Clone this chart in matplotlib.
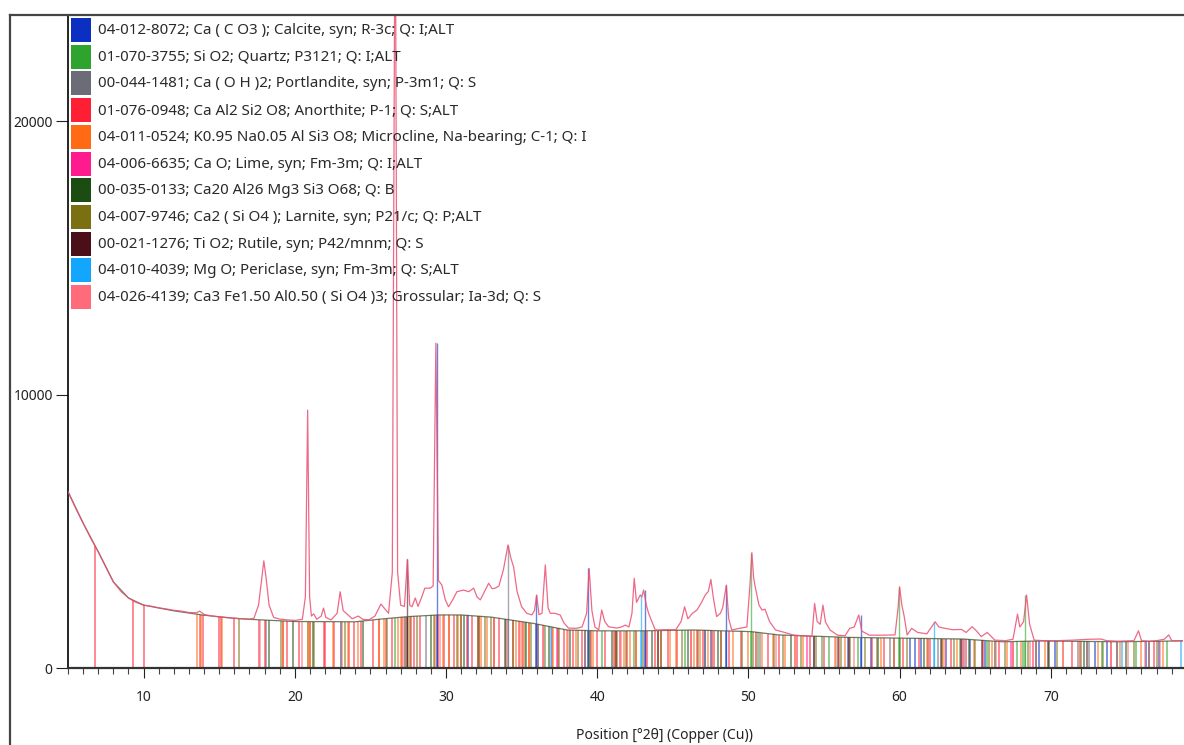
import numpy as np
import matplotlib
matplotlib.use("Agg")
import matplotlib.pyplot as plt
from matplotlib.lines import Line2D
from matplotlib.patches import Rectangle

plt.rcParams['font.family'] = ['Noto Sans', 'DejaVu Sans']

# ---- measured scan (2theta, counts) ----
obs_tth = [5.0, 5.5, 6.0, 6.5, 7.0, 7.5, 8.0, 8.5, 9.0, 9.5, 10.0, 10.5, 11.0, 11.5,
           12.0, 12.5, 13.0, 13.5, 13.7, 14.0, 14.5, 15.0, 15.5, 16.0, 16.5, 17.0,
           17.3, 17.6, 17.8, 17.95, 18.1, 18.3, 18.6, 19.0, 19.5, 20.0, 20.5, 20.7,
           20.85, 20.98, 21.1, 21.25, 21.45, 21.75, 21.9, 22.05, 22.4, 22.8, 23.0,
           23.2, 23.5, 23.8, 24.2, 24.5, 24.9, 25.3, 25.7, 25.9, 26.2, 26.45, 26.64,
           26.8, 27.0, 27.25, 27.45, 27.6, 27.75, 27.97, 28.15, 28.4, 28.6, 28.96,
           29.15, 29.33, 29.5, 29.73, 29.95, 30.17, 30.45, 30.72, 31.16, 31.5, 31.83,
           32.05, 32.27, 32.55, 32.82, 33.05, 33.26, 33.5, 33.8, 34.1, 34.3, 34.47,
           34.7, 35.0, 35.35, 35.68, 35.85, 36.0, 36.15, 36.35, 36.57, 36.75, 36.9,
           37.2, 37.55, 37.8, 38.1, 38.6, 39.0, 39.3, 39.47, 39.65, 39.85, 40.1,
           40.3, 40.5, 40.75, 41.3, 41.6, 41.86, 42.1, 42.3, 42.45, 42.6, 42.85,
           42.95, 43.07, 43.25, 43.4, 43.84, 44.5, 45.2, 45.55, 45.78, 46.0, 46.3,
           46.6, 46.9, 47.15, 47.35, 47.52, 47.7, 47.9, 48.15, 48.3, 48.54, 48.7,
           48.9, 49.4, 49.9, 50.1, 50.23, 50.35, 50.45, 50.7, 50.9, 51.1, 51.4,
           51.8, 52.4, 53.0, 53.6, 54.2, 54.38, 54.55, 54.75, 54.93, 55.1, 55.4,
           55.9, 56.4, 56.7, 57.0, 57.3, 57.5, 58.0, 58.8, 59.7, 59.9, 60.0, 60.15,
           60.3, 60.5, 60.8, 61.2, 61.8, 62.35, 62.6, 63.0, 63.5, 64.1, 64.4, 64.8,
           65.1, 65.4, 65.8, 66.3, 67.0, 67.5, 67.8, 67.95, 68.2, 68.4, 68.6, 68.9,
           69.5, 70.5, 71.5, 72.5, 73.3, 73.7, 74.5, 75.5, 75.8, 76.0, 76.5, 77.0,
           77.5, 77.8, 78.0, 78.7]
obs_int = [6450, 5850, 5300, 4750, 4250, 3700, 3150, 2800, 2560, 2400, 2300, 2260, 2200, 2160,
           2110, 2080, 2030, 2020, 2080, 1960, 1900, 1870, 1840, 1820, 1800, 1790,
           1820, 2300, 3200, 3920, 3300, 2300, 1850, 1790, 1760, 1740, 1780, 2600,
           9430, 2600, 1900, 1980, 1780, 1900, 2190, 1850, 1760, 2000, 2790,
           2100, 1950, 1800, 1900, 1780, 1760, 1900, 2340, 2200, 2000, 3500, 30000,
           3500, 2300, 2250, 3970, 2300, 2240, 2560, 2250, 2600, 2920, 2920,
           3000, 11880, 3200, 3030, 2500, 2240, 2500, 2790, 2850, 2790, 2920,
           2600, 2490, 2800, 3100, 2900, 2920, 3000, 3600, 4500, 4000, 3700,
           2800, 2240, 2000, 1940, 2100, 2670, 1950, 2000, 3770, 2200, 2000,
           2000, 1940, 1650, 1460, 1450, 1500, 2000, 3640, 2100, 1500, 1390,
           2120, 1700, 1510, 1460, 1500, 1570, 1500, 2000, 3280, 2400, 2670,
           2600, 2850, 2300, 2000, 1390, 1400, 1400, 1700, 2240, 1800, 2000,
           2120, 2400, 2670, 2800, 3240, 2500, 1880, 2000, 2200, 3030, 1800,
           1390, 1450, 1500, 3000, 4220, 3300, 2970, 2300, 2120, 2150, 1700,
           1390, 1300, 1200, 1180, 1150, 2360, 1700, 1600, 2300, 1680, 1390,
           1200, 1180, 1450, 1500, 1940, 1350, 1200, 1200, 1210, 2200, 2970, 2300,
           1900, 1210, 1450, 1300, 1250, 1690, 1500, 1450, 1400, 1410, 1300, 1510,
           1350, 1150, 1300, 1020, 1000, 1050, 1970, 1500, 1690, 2670, 1600, 1020,
           1000, 1000, 1020, 1050, 1060, 1000, 980, 1000, 1360, 1000, 980, 1000,
           1050, 1210, 1000, 1000]

# fitted background
bg_tth = [5, 6, 7, 8, 9, 10, 12, 14, 16, 17, 20, 24, 25.7, 27.5, 29.5, 31, 33, 35.8,
          38, 40, 43, 46.4, 50.2, 52, 56.6, 59.1, 64.2, 66.8, 69.3, 74.4, 78.7]
bg_int = [6450, 5300, 4250, 3150, 2560, 2300, 2090, 1930, 1820, 1780, 1700, 1690, 1790,
          1880, 1940, 1940, 1860, 1630, 1390, 1360, 1360, 1390, 1330, 1210, 1120, 1100,
          1060, 960, 990, 960, 990]

# ---- identified phases ----
phase_labels = [
    "04-012-8072; Ca ( C O3 ); Calcite, syn; R-3c; Q: I;ALT",
    "01-070-3755; Si O2; Quartz; P3121; Q: I;ALT",
    "00-044-1481; Ca ( O H )2; Portlandite, syn; P-3m1; Q: S",
    "01-076-0948; Ca Al2 Si2 O8; Anorthite; P-1; Q: S;ALT",
    "04-011-0524; K0.95 Na0.05 Al Si3 O8; Microcline, Na-bearing; C-1; Q: I",
    "04-006-6635; Ca O; Lime, syn; Fm-3m; Q: I;ALT",
    "00-035-0133; Ca20 Al26 Mg3 Si3 O68; Q: B",
    "04-007-9746; Ca2 ( Si O4 ); Larnite, syn; P21/c; Q: P;ALT",
    "00-021-1276; Ti O2; Rutile, syn; P42/mnm; Q: S",
    "04-010-4039; Mg O; Periclase, syn; Fm-3m; Q: S;ALT",
    "04-026-4139; Ca3 Fe1.50 Al0.50 ( Si O4 )3; Grossular; Ia-3d; Q: S",
]
phase_colors = ["#0b2fc0", "#2ea42e", "#6c6c78", "#ff1f35", "#ff6a12", "#ff1a8f",
                "#1b4d12", "#7a7012", "#4b0f1a", "#12a6ff", "#ff6b7b"]

calcite_pos = [23.06, 29.41, 31.44, 35.97, 39.42, 43.16, 47.12, 47.51, 48.51, 56.57,
               57.42, 58.09, 60.70, 61.01, 61.42, 63.07, 64.68, 65.62, 69.23, 70.27,
               72.94, 73.72, 76.33, 77.17]
quartz_pos = [20.86, 26.64, 36.54, 39.46, 40.29, 42.45, 45.79, 50.14, 50.62, 54.87,
              55.33, 57.23, 59.96, 63.99, 65.79, 67.74, 68.14, 68.32, 73.47, 75.66, 77.67]
portlandite_pos = [18.09, 28.66, 34.09, 47.12, 50.79, 54.34, 59.35, 62.54, 64.23,
                   71.78, 72.54]
anorthite_pos = [6.8, 9.3, 10.05, 13.7, 13.9, 15.0, 15.1, 16.0, 17.6, 18.0, 19.2, 19.5,
                 20.3, 21.0, 21.9, 22.0, 22.6, 23.6, 23.9, 24.4, 25.2, 25.6, 26.0, 26.4,
                 27.1, 27.7, 27.9, 28.3, 29.5, 29.9, 30.2, 30.5, 31.0, 31.4, 31.7, 32.1,
                 33.2, 33.5, 34.0, 34.4, 34.8, 35.1, 35.5, 36.4, 37.0, 37.4, 37.8, 38.4,
                 39.0, 39.6, 40.0, 40.5, 41.1, 41.5, 42.0, 42.6, 43.3, 43.8, 44.2, 44.7,
                 45.3, 46.2, 46.6, 47.0, 47.7, 48.2, 48.7, 49.5, 50.5, 51.3, 52.0, 53.2,
                 54.1, 55.0, 56.0, 58.2, 59.0, 60.2, 61.3, 62.0, 63.4, 64.4, 65.5, 66.6,
                 67.5, 68.8, 71.4, 74.0, 76.8]
microcline_pos = [13.5, 13.8, 15.2, 19.2, 20.9, 21.0, 22.5, 23.1, 23.5, 24.2, 25.6,
                  25.9, 26.8, 27.0, 27.5, 29.3, 29.8, 30.2, 30.8, 32.3, 32.7, 33.2, 34.6,
                  35.0, 35.5, 37.1, 38.0, 38.6, 39.7, 41.2, 41.8, 42.2, 42.6, 44.0, 44.8,
                  45.2, 46.4, 46.8, 47.3, 49.0, 50.0, 50.9, 51.6, 52.4, 53.1, 53.6, 55.7,
                  56.4, 58.8, 59.6, 61.8, 62.9, 63.8, 64.9, 66.1, 67.1, 68.0, 69.6, 70.8,
                  71.9, 73.1, 74.6, 76.0, 77.4]
lime_pos = [32.20, 37.35, 53.85, 64.15, 67.38]
ca20_pos = [18.3, 19.9, 21.2, 24.5, 27.3, 29.0, 31.2, 33.9, 35.3, 36.8, 38.2, 41.0,
            43.6, 46.0, 48.0, 52.8, 55.9, 58.6, 61.6, 64.6, 66.3, 69.9, 72.2, 75.0]
larnite_pos = [16.3, 19.1, 21.3, 23.3, 26.1, 27.6, 28.1, 29.2, 30.7, 31.0, 32.1, 32.2,
               32.6, 33.0, 34.4, 35.2, 35.6, 37.5, 38.7, 39.5, 41.3, 41.9, 43.0, 44.2,
               45.6, 46.7, 47.6, 48.2, 49.6, 50.3, 51.7, 52.3, 53.5, 54.5, 56.1, 56.7,
               57.7, 58.5, 59.6, 60.0, 60.5, 61.9, 62.8, 63.6, 65.0, 65.9, 67.0, 68.5,
               70.4, 72.0, 73.4, 75.5, 77.0]
rutile_pos = [27.45, 36.09, 39.19, 41.25, 44.05, 54.32, 56.64, 62.74, 64.04, 65.48,
              69.01, 69.79, 72.41, 74.41, 76.51]
periclase_pos = [36.94, 42.92, 62.30, 74.69, 78.63]
grossular_pos = [17.7, 20.5, 27.2, 29.6, 33.2, 34.9, 36.5, 38.1, 41.6, 43.2, 46.2, 47.6,
                 50.5, 51.8, 53.1, 55.8, 57.0, 59.6, 61.9, 63.0, 64.2, 66.4, 67.5, 68.6,
                 70.8, 71.9, 74.0, 75.1, 76.2, 77.2]

phase_sticks = [calcite_pos, quartz_pos, portlandite_pos, anorthite_pos, microcline_pos,
                lime_pos, ca20_pos, larnite_pos, rutile_pos, periclase_pos, grossular_pos]

# reference lines that reach up into their peaks: (phase, 2theta, top)
tall_sticks = [(0, 29.41, 11880), (0, 35.97, 2670), (0, 39.42, 3640), (0, 43.16, 2850),
               (0, 48.51, 3030), (0, 57.42, 1940), (1, 50.14, 4220),
               (1, 59.96, 2970), (1, 68.32, 2670), (2, 34.09, 4500), (8, 27.45, 3970),
               (9, 42.92, 2670), (9, 62.30, 1690)]

# ---- figure ----
W, H = 1184, 745
fig = plt.figure(figsize=(W / 100, H / 100), dpi=100)
ax = fig.add_axes([68 / W, 1 - 668 / H, (1262 - 68) / W, (668 - 15) / H])

for pos, col in zip(phase_sticks, phase_colors):
    tops = np.interp(pos, bg_tth, bg_int)
    ax.vlines(pos, 0, tops, colors=col, lw=1.2, alpha=0.62, zorder=1)
for k, t, top in tall_sticks:
    ax.vlines(t, 0, top, colors=phase_colors[k], lw=1.0, alpha=0.6, zorder=2)

ax.plot(bg_tth, bg_int, color="#4f5a3e", lw=0.9, alpha=0.8, zorder=3)
ax.plot(obs_tth, obs_int, color="#ec4f72", lw=0.9, alpha=0.85, zorder=4)

ax.set_xlim(5, 83.97)
ax.set_ylim(0, 23880)
ax.set_xticks(range(10, 71, 10))
ax.set_xticks(range(5, 84), minor=True)
ax.set_yticks([0, 10000, 20000])
ax.tick_params(axis="x", which="major", direction="out", length=7, width=0.8,
               pad=9, labelsize=10, colors="#222")
ax.tick_params(axis="x", which="minor", direction="out", length=4, width=0.8, colors="#444")
ax.tick_params(axis="y", direction="out", length=9, width=0.8, pad=2,
               labelsize=10, colors="#222")
ax.spines["top"].set_visible(False)
ax.spines["right"].set_visible(False)
ax.spines["left"].set_linewidth(1.2)
ax.spines["bottom"].set_linewidth(1.6)
ax.spines["bottom"].set_color("#333")

# axis title sits centred on the full scan range, just above the lower edge
fig.text(665 / W, 2 / H, "Position [°2θ] (Copper (Cu))", fontsize=10, color="#222",
         ha="center", va="bottom")

# phase legend
for i, (lab, col) in enumerate(zip(phase_labels, phase_colors)):
    y0 = 18 + 26.7 * i
    fig.add_artist(Rectangle((71 / W, 1 - (y0 + 24) / H), 20 / W, 24 / H,
                             transform=fig.transFigure, facecolor=col, edgecolor="none"))
    fig.text(98 / W, 1 - (y0 + 12.5) / H, lab, fontsize=10.9, color="#2a2a2a", va="center")

# outer frame
fig.add_artist(Line2D([10 / W, 10 / W], [0, 1 - 15 / H], transform=fig.transFigure,
                      color="#444", lw=1.6))
fig.add_artist(Line2D([10 / W, 1], [1 - 15 / H, 1 - 15 / H], transform=fig.transFigure,
                      color="#444", lw=1.6))

fig.savefig("out.png", dpi=100)
